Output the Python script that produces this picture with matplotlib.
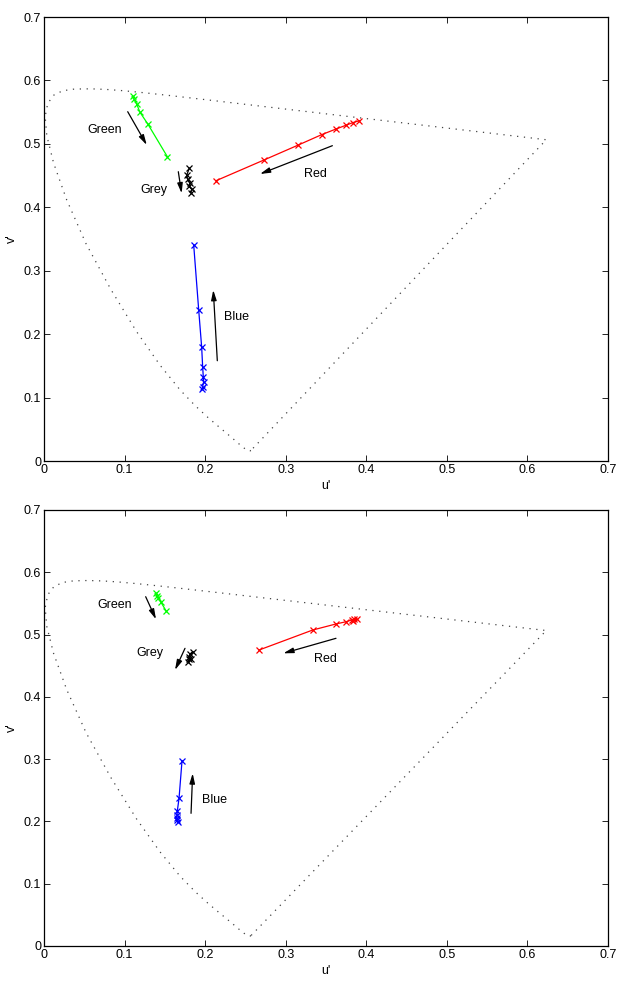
import matplotlib
matplotlib.use("Agg")
import matplotlib.pyplot as plt
import numpy as np

plt.rcParams['font.family'] = ['Liberation Sans', 'DejaVu Sans']

# CIE 1931 spectral locus chromaticities (x, y), 380-700 nm
locus_x = [0.1741, 0.1740, 0.1738, 0.1736, 0.1733, 0.1730, 0.1726, 0.1721, 0.1714, 0.1703,
           0.1689, 0.1669, 0.1644, 0.1611, 0.1566, 0.1510, 0.1440, 0.1355, 0.1241, 0.1096,
           0.0913, 0.0687, 0.0454, 0.0235, 0.0082, 0.0039, 0.0139, 0.0389, 0.0743, 0.1142,
           0.1547, 0.1929, 0.2296, 0.2658, 0.3016, 0.3373, 0.3731, 0.4087, 0.4441, 0.4788,
           0.5125, 0.5448, 0.5752, 0.6029, 0.6270, 0.6482, 0.6658, 0.6801, 0.6915, 0.7006,
           0.7079, 0.7140, 0.7190, 0.7230, 0.7260, 0.7283, 0.7300, 0.7311, 0.7320, 0.7334,
           0.7344, 0.7347]
locus_y = [0.0050, 0.0050, 0.0049, 0.0049, 0.0048, 0.0048, 0.0048, 0.0048, 0.0051, 0.0058,
           0.0069, 0.0086, 0.0109, 0.0138, 0.0177, 0.0227, 0.0297, 0.0399, 0.0578, 0.0868,
           0.1327, 0.2007, 0.2950, 0.4127, 0.5384, 0.6548, 0.7502, 0.8120, 0.8338, 0.8262,
           0.8059, 0.7816, 0.7543, 0.7243, 0.6923, 0.6589, 0.6245, 0.5896, 0.5547, 0.5202,
           0.4866, 0.4544, 0.4242, 0.3965, 0.3725, 0.3514, 0.3340, 0.3197, 0.3083, 0.2993,
           0.2920, 0.2859, 0.2809, 0.2770, 0.2740, 0.2717, 0.2700, 0.2689, 0.2680, 0.2666,
           0.2656, 0.2653]

# Top panel series (u', v')
top_green_u = [0.110, 0.112, 0.115, 0.119, 0.129, 0.153]
top_green_v = [0.575, 0.570, 0.563, 0.550, 0.531, 0.480]
top_grey_u = [0.1804, 0.1771, 0.1783, 0.1812, 0.1800, 0.1833, 0.1824]
top_grey_v = [0.4614, 0.4509, 0.4441, 0.4388, 0.4335, 0.4283, 0.4230]
top_red_u = [0.2135, 0.2731, 0.3157, 0.3446, 0.3624, 0.3745, 0.3831, 0.3914]
top_red_v = [0.4419, 0.4746, 0.4982, 0.5145, 0.5234, 0.5292, 0.5334, 0.5365]
top_blue_u = [0.1858, 0.1920, 0.1957, 0.1969, 0.1977, 0.1982, 0.1969, 0.1961]
top_blue_v = [0.3405, 0.2381, 0.1792, 0.1487, 0.1329, 0.1251, 0.1172, 0.1130]

# Bottom panel series (u', v')
bot_green_u = [0.139, 0.1407, 0.1419, 0.1448, 0.1514]
bot_green_v = [0.5662, 0.5619, 0.5582, 0.5527, 0.5383]
bot_grey_u = [0.1845, 0.1812, 0.1796, 0.1820, 0.1783, 0.1804]
bot_grey_v = [0.4725, 0.4688, 0.4635, 0.4603, 0.4564, 0.4600]
bot_red_u = [0.2669, 0.3335, 0.3620, 0.3748, 0.3819, 0.3852, 0.3881, 0.3840]
bot_red_v = [0.4752, 0.5073, 0.5169, 0.5206, 0.5234, 0.5244, 0.5254, 0.5222]
bot_blue_u = [0.1713, 0.1676, 0.1655, 0.1651, 0.1647, 0.1651, 0.1659]
bot_blue_v = [0.2975, 0.2371, 0.2172, 0.2103, 0.2060, 0.2023, 0.1986]

series_names = ["Green", "Grey", "Red", "Blue"]
series_colors = ["#00ff00", "black", "red", "blue"]

top_labels = {"Green": (0.0757, 0.5218), "Grey": (0.1365, 0.4272),
              "Red": (0.3363, 0.4525), "Blue": (0.2383, 0.2270)}
top_arrows = {"Green": ((0.1039, 0.5507), (0.1275, 0.4982)),
              "Grey": ((0.1667, 0.4561), (0.1708, 0.4220)),
              "Red": ((0.3579, 0.4971), (0.2681, 0.4525)),
              "Blue": ((0.2151, 0.1581), (0.2101, 0.2696))}
bot_labels = {"Green": (0.0881, 0.5474), "Grey": (0.1316, 0.4699),
              "Red": (0.3488, 0.4602), "Blue": (0.2110, 0.2344)}
bot_arrows = {"Green": ((0.1262, 0.5608), (0.1390, 0.5245)),
              "Grey": ((0.1750, 0.4779), (0.1626, 0.4431)),
              "Red": ((0.3624, 0.4940), (0.2970, 0.4699)),
              "Blue": ((0.1825, 0.2130), (0.1845, 0.2772))}

lx = np.array(locus_x)
ly = np.array(locus_y)
den = -2 * lx + 12 * ly + 3
loc_u = np.append(4 * lx / den, 4 * lx[0] / den[0])
loc_v = np.append(9 * ly / den, 9 * ly[0] / den[0])

fig = plt.figure(figsize=(6.19, 9.83), dpi=100)
ax_top = fig.add_axes([44 / 619, 1 - 461 / 983, 564 / 619, 444 / 983])
ax_bot = fig.add_axes([44 / 619, 1 - 946 / 983, 564 / 619, 436 / 983])

panels = [
    (ax_top, [(top_green_u, top_green_v), (top_grey_u, top_grey_v),
              (top_red_u, top_red_v), (top_blue_u, top_blue_v)], top_labels, top_arrows),
    (ax_bot, [(bot_green_u, bot_green_v), (bot_grey_u, bot_grey_v),
              (bot_red_u, bot_red_v), (bot_blue_u, bot_blue_v)], bot_labels, bot_arrows),
]

ticks = [0, 0.1, 0.2, 0.3, 0.4, 0.5, 0.6, 0.7]
tick_labels = ["0", "0.1", "0.2", "0.3", "0.4", "0.5", "0.6", "0.7"]

for ax, data, labels, arrows in panels:
    ax.plot(loc_u, loc_v, linestyle=(0, (1, 4.5)), color="#444444", linewidth=0.9)
    for name, color, (u, v) in zip(series_names, series_colors, data):
        ax.plot(u, v, color=color, linewidth=0.9, marker="x", markersize=4.5,
                markeredgewidth=0.9)
        tx, ty = labels[name]
        ax.text(tx, ty, name, fontsize=9, ha="center", va="center")
        (x0, y0), (x1, y1) = arrows[name]
        ax.annotate("", xy=(x1, y1), xytext=(x0, y0),
                    arrowprops=dict(arrowstyle="-|>,head_length=0.6,head_width=0.16",
                                    color="black", lw=0.9, shrinkA=0, shrinkB=0))
    ax.set_xlim(0, 0.7)
    ax.set_ylim(0, 0.7)
    ax.set_xticks(ticks)
    ax.set_xticklabels(tick_labels)
    ax.set_yticks(ticks)
    ax.set_yticklabels(tick_labels)
    ax.tick_params(direction="in", top=True, right=True, labelsize=9, length=4, width=0.6,
                   pad=2)
    ax.set_xlabel("u'", fontsize=9, labelpad=3)
    ax.set_ylabel("v'", fontsize=9, labelpad=4)
    for s in ax.spines.values():
        s.set_linewidth(0.9)

fig.savefig("out.png", dpi=100)
